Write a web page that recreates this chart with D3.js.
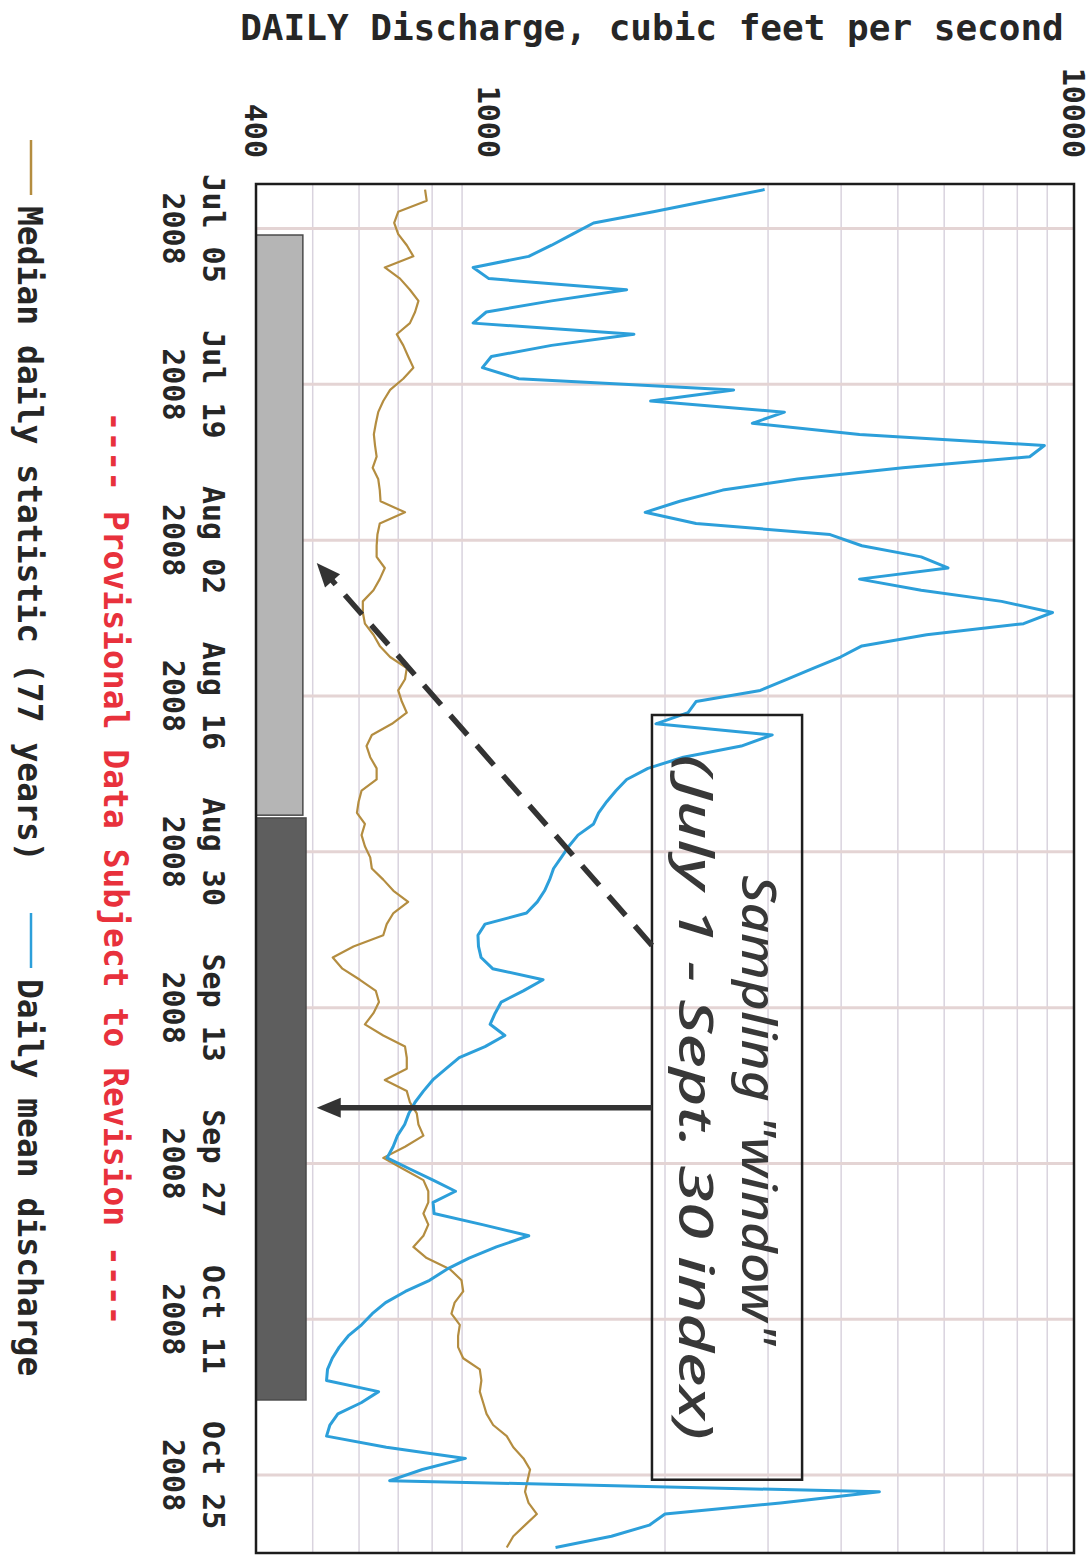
<!DOCTYPE html>
<html>
<head>
<meta charset="utf-8">
<script src="https://cdn.jsdelivr.net/npm/d3@7"></script>
<style>
body { margin: 0; background: #fff; }
</style>
</head>
<body>
<svg width="1092" height="1558"></svg>
<script>
// daily values, Jul 1 .. Oct 31 2008 (cfs)
var firstDay = new Date(2008, 6, 1);
var lastDay = new Date(2008, 10, 1);

var dailyMean = [2960,2370,1910,1510,1390,1280,1170,940,1000,1720,
  1280,990,940,1770,1280,1010,975,1125,2620,1890,
  3200,2820,4300,8900,8400,5100,3370,2510,2120,1850,
  2260,3830,4340,5480,6090,4300,5480,7520,9190,8200,
  5600,4340,3990,3590,3230,2910,2260,2190,1930,3050,
  2700,2150,1870,1720,1650,1590,1540,1510,1420,1370,
  1330,1290,1270,1245,1210,1160,985,958,960,970,
  1015,1238,1145,1050,1025,1005,1065,985,890,844,
  802,773,748,730,718,698,686,670,733,803,
  877,803,806,975,1170,1030,925,848,792,720,
  666,632,606,575,555,540,530,528,648,605,
  552,535,528,668,912,770,677,4650,3150,2000,
  1880,1620,1300];

var medianDaily = [778,783,700,689,700,724,743,664,705,733,
  758,748,733,696,714,728,743,714,678,660,
  647,641,636,639,643,633,647,651,653,719,
  651,645,643,643,664,651,635,609,609,614,
  635,651,678,724,719,700,710,724,683,631,
  618,627,643,643,606,599,595,614,606,614,
  627,631,660,687,728,687,669,660,587,541,
  562,602,641,649,635,614,660,719,724,724,
  664,724,733,753,758,773,719,660,714,773,
  788,788,773,788,773,743,783,858,898,904,
  874,863,892,886,886,904,965,971,965,978,
  991,1017,1073,1101,1146,1176,1164,1153,1169,1208,
  1153,1101,1073];

var gridValues = [500,600,700,800,900,2000,3000,4000,5000,6000,7000,8000,9000];
var valueLabels = [400, 1000, 10000];

// hand-drawn overlay
var barStarts = [new Date(2008, 6, 5, 14), new Date(2008, 7, 26, 23)];
var barEnds = [new Date(2008, 7, 26, 17), new Date(2008, 9, 18, 6)];
var barTops = [481, 487];
var boxDates = [new Date(2008, 7, 17, 17), new Date(2008, 9, 25, 10)];
var boxValues = [1900, 3430];
var noteLines = ['Sampling "window"', "(July 1 - Sept. 30 index)"];

var svg = d3.select("svg"),
    width = +svg.attr("width"),
    height = +svg.attr("height");

var x = d3.scaleLog().domain([400, 10000]).range([256, 1074]);
var y = d3.scaleTime().domain([firstDay, lastDay]).range([184, 1553]);

var days = dailyMean.map(function(d, i) {
  return d3.timeHour.offset(d3.timeDay.offset(firstDay, i), 12);
});
var dateTicks = d3.timeDay.range(new Date(2008, 6, 5), lastDay, 14);

var mono = "'DejaVu Sans Mono', 'Liberation Mono', monospace";
var ink = "#262626";

// title
svg.append("text")
  .attr("x", 652).attr("y", 40)
  .attr("text-anchor", "middle")
  .attr("font-family", mono).attr("font-weight", "bold")
  .attr("font-size", 36).attr("fill", ink)
  .text("DAILY Discharge, cubic feet per second");

// grid
svg.selectAll(".vgrid").data(gridValues).enter().append("line")
  .attr("x1", d => x(d)).attr("x2", d => x(d))
  .attr("y1", y.range()[0]).attr("y2", y.range()[1])
  .attr("stroke", "#d9d3de").attr("stroke-width", 1.5);

svg.selectAll(".hgrid").data(dateTicks).enter().append("line")
  .attr("x1", x.range()[0]).attr("x2", x.range()[1])
  .attr("y1", d => y(d)).attr("y2", d => y(d))
  .attr("stroke", "#e4d4d4").attr("stroke-width", 3);

// value labels (rotated with the page)
svg.selectAll(".vlab").data(valueLabels).enter().append("text")
  .attr("transform", d => "translate(" + x(d) + ",158) rotate(90)")
  .attr("text-anchor", "end").attr("dy", "0.36em")
  .attr("font-family", mono).attr("font-weight", "bold")
  .attr("font-size", 30).attr("fill", ink)
  .text(d => d);

// date labels
var fmtDay = d3.timeFormat("%b %d"), fmtYear = d3.timeFormat("%Y");
var dl = svg.selectAll(".dlab").data(dateTicks).enter().append("g")
  .attr("transform", d => "translate(203," + y(d) + ") rotate(90)");
dl.append("text").attr("text-anchor", "middle")
  .attr("font-family", mono).attr("font-weight", "bold")
  .attr("font-size", 30).attr("fill", ink)
  .text(d => fmtDay(d));
dl.append("text").attr("text-anchor", "middle").attr("y", 40)
  .attr("font-family", mono).attr("font-weight", "bold")
  .attr("font-size", 30).attr("fill", ink)
  .text(d => fmtYear(d));

// gray bars
var barColor = ["#b5b5b5", "#5e5e5e"];
svg.selectAll(".bar").data(barStarts).enter().append("rect")
  .attr("x", x(400))
  .attr("y", d => y(d))
  .attr("width", (d, i) => x(barTops[i]) - x(400))
  .attr("height", (d, i) => y(barEnds[i]) - y(d))
  .attr("fill", (d, i) => barColor[i])
  .attr("stroke", "#4a4a4a").attr("stroke-width", 1.5);

// lines
svg.append("clipPath").attr("id", "plotclip").append("rect")
  .attr("x", x.range()[0]).attr("y", y.range()[0])
  .attr("width", x.range()[1] - x.range()[0])
  .attr("height", y.range()[1] - y.range()[0]);

var line = d3.line()
  .x(d => x(d))
  .y((d, i) => y(days[i]));

svg.append("path").datum(medianDaily)
  .attr("clip-path", "url(#plotclip)")
  .attr("d", line).attr("fill", "none")
  .attr("stroke", "#b48d40").attr("stroke-width", 2.2)
  .attr("stroke-linejoin", "round");

svg.append("path").datum(dailyMean)
  .attr("clip-path", "url(#plotclip)")
  .attr("d", line).attr("fill", "none")
  .attr("stroke", "#2c9fda").attr("stroke-width", 3)
  .attr("stroke-linejoin", "round");

// note box
var bx0 = x(boxValues[0]), bx1 = x(boxValues[1]);
var by0 = y(boxDates[0]), by1 = y(boxDates[1]);
svg.append("rect")
  .attr("x", bx0).attr("y", by0)
  .attr("width", bx1 - bx0).attr("height", by1 - by0)
  .attr("fill", "none").attr("stroke", "#1e1e1e").attr("stroke-width", 2.5);

var hand = "'Comic Sans MS', 'Noto Sans', 'Open Sans', sans-serif";
var midY = (by0 + by1) / 2;
svg.append("text")
  .attr("transform", "translate(" + (bx0 + 90) + "," + (midY + 13) + ") rotate(90)")
  .attr("text-anchor", "middle")
  .attr("font-family", hand).attr("font-style", "italic").attr("font-weight", 500)
  .attr("font-size", 48).attr("fill", "#383838")
  .attr("textLength", 470).attr("lengthAdjust", "spacingAndGlyphs")
  .text(noteLines[0]);
svg.append("text")
  .attr("transform", "translate(" + (bx0 + 27) + "," + midY + ") rotate(90)")
  .attr("text-anchor", "middle")
  .attr("font-family", hand).attr("font-style", "italic").attr("font-weight", 500)
  .attr("font-size", 48).attr("fill", "#383838")
  .attr("textLength", 685).attr("lengthAdjust", "spacingAndGlyphs")
  .text(noteLines[1]);

// arrows from the box to the bars
var arrowFrom = [[1900, new Date(2008, 8, 7, 10)], [1900, new Date(2008, 8, 22, 0)]];
var arrowTo = [[508, new Date(2008, 7, 4, 1)], [508, new Date(2008, 8, 22, 0)]];
var arrowDash = ["26,14", null];

arrowFrom.forEach(function(a, i) {
  var p0 = [x(a[0]), y(a[1])], p1 = [x(arrowTo[i][0]), y(arrowTo[i][1])];
  var dx = p1[0] - p0[0], dy = p1[1] - p0[1], len = Math.sqrt(dx * dx + dy * dy);
  var ux = dx / len, uy = dy / len, head = 24, half = 10;
  svg.append("line")
    .attr("x1", p0[0]).attr("y1", p0[1])
    .attr("x2", p1[0] - ux * (head - 2)).attr("y2", p1[1] - uy * (head - 2))
    .attr("stroke", "#333").attr("stroke-width", 5.5)
    .attr("stroke-dasharray", arrowDash[i]);
  var bxh = p1[0] - ux * head, byh = p1[1] - uy * head;
  svg.append("path")
    .attr("d", "M" + p1[0] + "," + p1[1] +
      "L" + (bxh - uy * half) + "," + (byh + ux * half) +
      "L" + (bxh + uy * half) + "," + (byh - ux * half) + "Z")
    .attr("fill", "#333");
});

// frame
svg.append("rect")
  .attr("x", x.range()[0]).attr("y", y.range()[0])
  .attr("width", x.range()[1] - x.range()[0])
  .attr("height", y.range()[1] - y.range()[0])
  .attr("fill", "none").attr("stroke", "#1c1c1c").attr("stroke-width", 2.5);

// legend / footer
svg.append("text")
  .attr("transform", "translate(104," + ((y.range()[0] + y.range()[1]) / 2) + ") rotate(90)")
  .attr("text-anchor", "middle")
  .attr("font-family", mono).attr("font-weight", "bold")
  .attr("font-size", 33).attr("fill", "#e8313c")
  .text("---- Provisional Data Subject to Revision ----");

var legendNames = ["Median daily statistic (77 years)", "Daily mean discharge"];
var legendColors = ["#b48d40", "#2c9fda"];
var legendStart = [140, 913];
legendNames.forEach(function(name, i) {
  svg.append("line")
    .attr("x1", 31).attr("x2", 31)
    .attr("y1", legendStart[i]).attr("y2", legendStart[i] + 55)
    .attr("stroke", legendColors[i]).attr("stroke-width", 2.5);
  svg.append("text")
    .attr("transform", "translate(18," + (legendStart[i] + 66) + ") rotate(90)")
    .attr("font-family", mono).attr("font-weight", "bold")
    .attr("font-size", 33).attr("fill", ink)
    .text(name);
});
</script>
</body>
</html>
